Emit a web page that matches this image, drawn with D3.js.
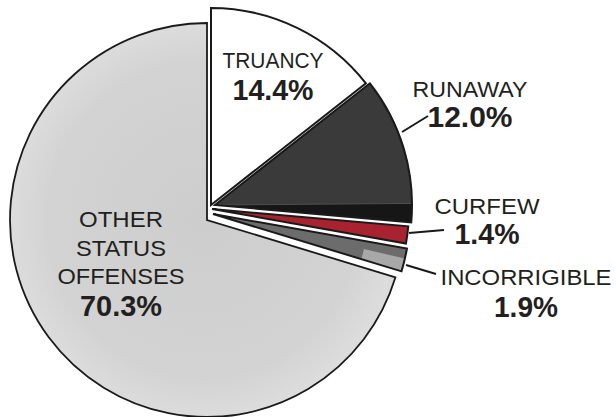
<!DOCTYPE html>
<html><head><meta charset="utf-8">
<script src="https://cdn.jsdelivr.net/npm/d3@7"></script>
<style>body{margin:0;background:#fff}svg{display:block}</style>
</head><body><svg id="c" width="616" height="417"></svg>
<script>
// ---- data ----
const categories = ["TRUANCY", "RUNAWAY", "CURFEW", "INCORRIGIBLE", "OTHER STATUS OFFENSES"];
const values = [14.4, 12.0, 1.4, 1.9, 70.3];
const valueLabels = ["14.4%", "12.0%", "1.4%", "1.9%", "70.3%"];
const nameLines = [["TRUANCY"], ["RUNAWAY"], ["CURFEW"], ["INCORRIGIBLE"], ["OTHER", "STATUS", "OFFENSES"]];

// ---- style / layout ----
const fills = ["#ffffff", "#3a3a3a", "#a8232f", "#6c6c6c", "url(#otherGrad)"];
const explode = [[4, -15], [8, -15], [5, -11], [6, -6], [0, 0]];
const labelPos = [[273, 68], [470, 97], [487, 214], [526, 285], [121, 227]];
const nameWidths = [[101], [115], [105], [171], [84, 90, 127]];
const valueWidths = [81, 85, 65, 64, 82];
const valueOffsets = [32, 30, 30, 32, 89];
const leaders = [null, [[402, 132], [428, 116]], [[409, 233], [444, 230]], [[406, 265], [436, 274]], null];
const cx = 207, cy = 220, R = 197;

const svg = d3.select("#c");
const defs = svg.append("defs");
const g1 = defs.append("radialGradient").attr("id", "otherGrad").attr("cx", "50%").attr("cy", "50%").attr("r", "50%");
g1.append("stop").attr("offset", "0%").attr("stop-color", "#cdcdcd");
g1.append("stop").attr("offset", "80%").attr("stop-color", "#d3d3d3");
g1.append("stop").attr("offset", "100%").attr("stop-color", "#dcdcdc");

const pie = d3.pie().sort(null).value(d => d);
const arcs = pie(values);
const arc = d3.arc().innerRadius(0).outerRadius(R);
const deg = Math.PI / 180;

const order = [4, 0, 1, 2, 3];
order.forEach(i => {
  const a = arcs[i];
  const g = svg.append("g").attr("transform", `translate(${cx + explode[i][0]},${cy + explode[i][1]})`);
  if (i === 1) {
    g.append("path").attr("d", arc(a)).attr("fill", "#161616");
    g.append("path").attr("d", arc({startAngle: a.startAngle, endAngle: a.endAngle - 5.5 * deg}))
      .attr("fill", "#3a3a3a").attr("stroke", "#4e4e4e").attr("stroke-width", 1);
    g.append("path").attr("d", arc(a)).attr("fill", "none").attr("stroke", "#1a1a1a").attr("stroke-width", 2);
  } else if (i === 3) {
    g.append("path").attr("d", arc(a)).attr("fill", fills[i]);
    const a2 = d3.arc().innerRadius(R - 42).outerRadius(R);
    g.append("path").attr("d", a2({startAngle: a.startAngle + 3 * deg, endAngle: a.endAngle})).attr("fill", "#a8a8a8");
    g.append("path").attr("d", arc(a)).attr("fill", "none").attr("stroke", "#1a1a1a").attr("stroke-width", 2);
  } else {
    g.append("path").attr("d", arc(a)).attr("fill", fills[i])
      .attr("stroke", "#1a1a1a").attr("stroke-width", i === 4 ? 1.8 : 2).attr("stroke-linejoin", "miter");
  }
});

leaders.forEach(l => {
  if (!l) return;
  svg.append("line").attr("x1", l[0][0]).attr("y1", l[0][1]).attr("x2", l[1][0]).attr("y2", l[1][1])
    .attr("stroke", "#1a1a1a").attr("stroke-width", 2);
});

const font = "'Liberation Sans', Arial, Helvetica, sans-serif";
categories.forEach((c, i) => {
  const [x, y] = labelPos[i];
  nameLines[i].forEach((ln, k) => {
    const w = nameWidths[i][k];
    svg.append("text").attr("x", x - w / 2).attr("y", y + k * 28.5)
      .attr("font-family", font).attr("font-size", 22).attr("fill", "#231f20")
      .attr("textLength", w).attr("lengthAdjust", "spacingAndGlyphs").text(ln);
  });
  const vw = valueWidths[i];
  svg.append("text").attr("x", x - vw / 2).attr("y", y + valueOffsets[i]).attr("font-family", font)
    .attr("font-weight", "bold").attr("font-size", 30).attr("fill", "#231f20")
    .attr("textLength", vw).attr("lengthAdjust", "spacingAndGlyphs").text(valueLabels[i]);
});
</script></body></html>
